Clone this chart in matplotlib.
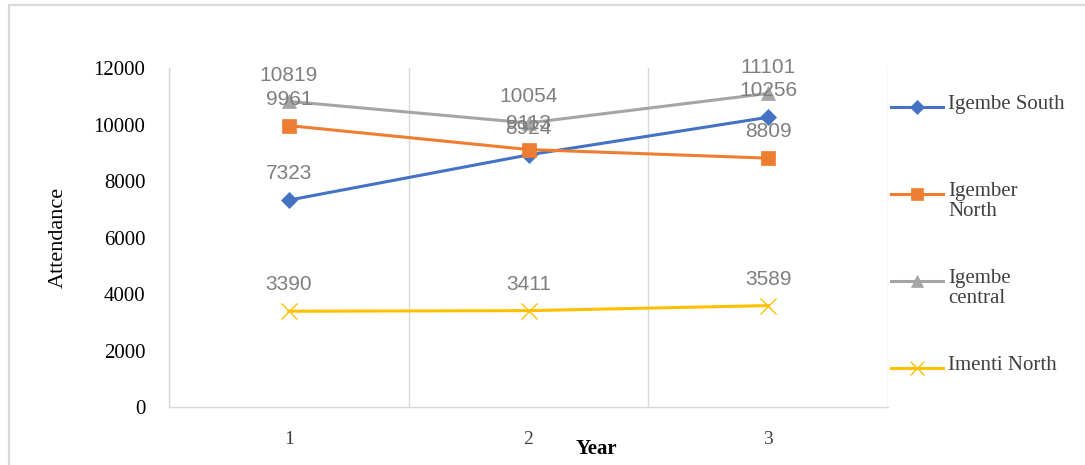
import numpy as np
import matplotlib.pyplot as plt
from matplotlib.lines import Line2D
from matplotlib.patches import Rectangle

# Datos del gráfico
years = [1, 2, 3]
igembe_south = [7323, 8924, 10256]
igember_north = [9961, 9113, 8809]
igembe_central = [10819, 10054, 11101]
imenti_north = [3390, 3411, 3589]

series_names = ["Igembe South", "Igember\nNorth", "Igembe\ncentral", "Imenti North"]
series_values = [igembe_south, igember_north, igembe_central, imenti_north]
series_colors = ["#4472C4", "#ED7D31", "#A5A5A5", "#FFC000"]
series_markers = ["D", "s", "^", "x"]
series_msize = [8, 10, 10, 11]
y_ticks = [0, 2000, 4000, 6000, 8000, 10000, 12000]

serif = "Liberation Serif"
label_font = "Liberation Sans"

fig = plt.figure(figsize=(10.85, 4.65), dpi=100)
ax = fig.add_axes([169 / 1085, 58 / 465, 719 / 1085, 339 / 465])

# Marco exterior del gráfico
fig.add_artist(Rectangle((9 / 1085, -0.2), 1.2, 1.2 - 5 / 465,
                         transform=fig.transFigure, fill=False,
                         edgecolor="#D9D9D9", linewidth=1.6))

for vals, col, mk, ms in zip(series_values, series_colors, series_markers, series_msize):
    ax.plot(years, vals, color=col, linewidth=2.2, marker=mk, markersize=ms,
            markeredgewidth=1.0 if mk == "x" else 0.5, markeredgecolor=col, zorder=3)
    for x, v in zip(years, vals):
        ax.annotate(str(v), (x, v), xytext=(0, 15), textcoords="offset points",
                    ha="center", va="baseline", fontsize=15, color="#7F7F7F",
                    family=label_font, zorder=4)

ax.set_xlim(0.5, 3.5)
ax.set_ylim(0, 12000)
ax.set_xticks(years)
ax.set_xticks([0.5, 1.5, 2.5, 3.5], minor=True)
ax.set_yticks(y_ticks)
ax.grid(which="minor", axis="x", color="#D9D9D9", linewidth=1.0)
ax.tick_params(axis="both", which="both", length=0)
ax.tick_params(axis="y", pad=17, labelsize=15, labelcolor="black")
ax.tick_params(axis="x", pad=17, labelsize=14, labelcolor="#404040")
for lab in ax.get_xticklabels() + ax.get_yticklabels():
    lab.set_family(serif)

for s in ["top", "right"]:
    ax.spines[s].set_visible(False)
for s in ["left", "bottom"]:
    ax.spines[s].set_color("#D9D9D9")
    ax.spines[s].set_linewidth(1.0)

ax.set_ylabel("Attendance", family=serif, fontsize=16, color="black")
ax.yaxis.set_label_coords(-0.141, 0.5)
ax.set_xlabel("Year", family=serif, fontsize=15, color="black", fontweight="bold", va="center")
ax.xaxis.set_label_coords(0.594, -0.124)

# Leyenda a la derecha
leg_top = 107
leg_step = 87
for i, (name, col, mk, ms) in enumerate(zip(series_names, series_colors, series_markers, series_msize)):
    yy = 1 - (leg_top + i * leg_step) / 465
    fig.add_artist(Line2D([891 / 1085, 943 / 1085], [yy, yy], transform=fig.transFigure,
                          color=col, linewidth=2.2))
    fig.add_artist(Line2D([917 / 1085], [yy], transform=fig.transFigure, color=col,
                          marker=mk, markersize=ms - 1, markeredgewidth=1.0 if mk == "x" else 0.5,
                          markeredgecolor=col))
    fig.text(948 / 1085, yy + 12 / 465, name, ha="left", va="top", family=serif,
             fontsize=15, color="#404040", linespacing=1.1)

fig.savefig("out.png", dpi=100)
